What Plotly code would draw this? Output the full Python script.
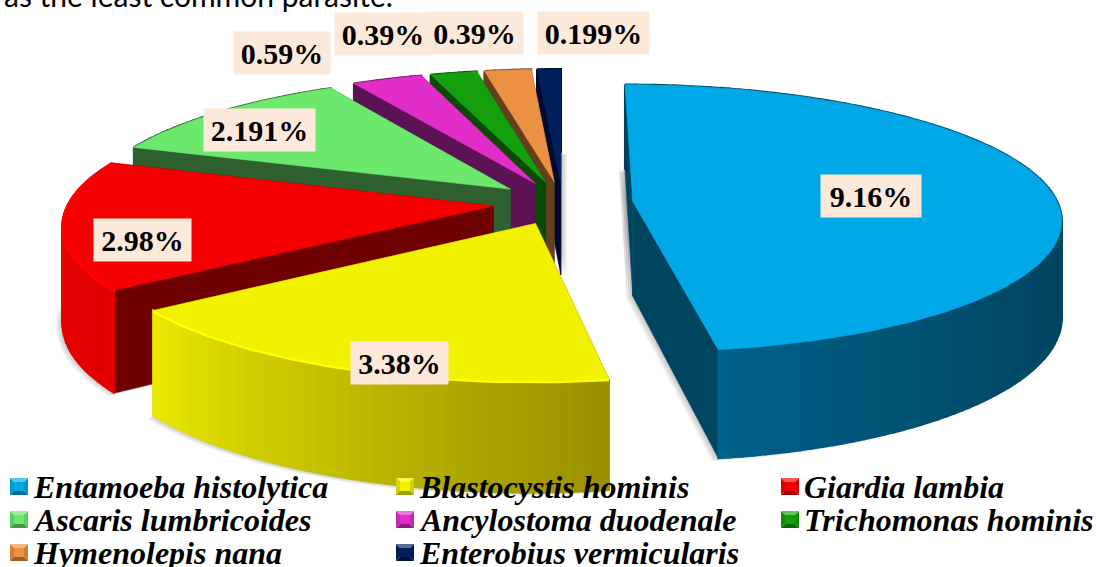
import numpy as np
import plotly.graph_objects as go

# ---- data ----
parasites = ["Entamoeba histolytica", "Blastocystis hominis", "Giardia lambia",
             "Ascaris lumbricoides", "Ancylostoma duodenale", "Trichomonas hominis",
             "Hymenolepis nana", "Enterobius vermicularis"]
values = [9.16, 3.38, 2.98, 2.191, 0.59, 0.39, 0.39, 0.199]
labels = ["9.16%", "3.38%", "2.98%", "2.191%", "0.59%", "0.39%", "0.39%", "0.199%"]
top_colors = ["#00A8E8", "#F2F200", "#F50000", "#6CE86C", "#E22EC8", "#14A00C", "#EC9044", "#00205C"]
side_colors = ["#004560", "#6E6E00", "#6E0000", "#2F6030", "#5C1255", "#0A4A05", "#663F1E", "#000A30"]
rim_start = ["#00405A", "#9A9000", "#E20000", "#2F6030", "#5C1255", "#0A4A05", "#663F1E", "#000A30"]
rim_end = ["#00628A", "#E8E800", "#E20000", "#2F6030", "#5C1255", "#0A4A05", "#663F1E", "#000A30"]
rim_curve = [4, 1, 1, 1, 1, 1, 1, 1]

# ---- view of the tilted pie, in page pixels ----
CX, CY, RX, RY, PERSP, EXPLODE, DEPTH = 563, 203, 425, 132, 0.127, 0.165, 95
label_boxes = [(871, 196, 100), (399, 363, 97), (142, 240, 97), (259, 130, 111),
               (282, 53, 96), (383, 34, 96), (474, 33, 97), (593, 33, 111)]
legend_cols = [10, 396, 781]
legend_rows = [487, 520, 553]


def project(X, Y):
    d = 1 + PERSP * np.asarray(Y)
    return CX + RX * np.asarray(X) / d, CY - RY * np.asarray(Y) / d, DEPTH / d


def hex_rgb(c):
    return np.array([int(c[i:i + 2], 16) for i in (1, 3, 5)], float)


def mix(a, b, t):
    v = hex_rgb(a) * (1 - t) + hex_rgb(b) * t
    return "rgb(%d,%d,%d)" % tuple(v)


fig = go.Figure()


def poly(xs, ys, fill, line=None, lw=0.6):
    fig.add_trace(go.Scatter(x=list(xs), y=list(ys), mode="lines", fill="toself",
                             fillcolor=fill, line=dict(color=line or fill, width=lw),
                             hoverinfo="skip", showlegend=False))


fractions = np.array(values) / sum(values)
edges = np.concatenate([[0], np.cumsum(fractions)]) * 2 * np.pi
slices = []
for i in range(len(values)):
    a0, a1 = edges[i], edges[i + 1]
    mid = (a0 + a1) / 2
    ox, oy = EXPLODE * np.sin(mid), EXPLODE * np.cos(mid)
    th = np.linspace(a0, a1, max(6, int((a1 - a0) * 40)))
    ax, ay, ah = project(ox, oy)
    rx, ry, rh = project(ox + np.sin(th), oy + np.cos(th))
    slices.append(dict(ax=float(ax), ay=float(ay), ah=float(ah), rx=rx, ry=ry, rh=rh))

# soft shadows
for o in (2, 4, 6):
    for i in (0, 1, 2, 7):
        s = slices[i]
        sx = -o if i != 7 else o
        poly(np.r_[s["ax"], s["rx"], s["ax"]] + sx,
             np.r_[s["ay"] + s["ah"], s["ry"] + s["rh"], s["ay"] + s["ah"]] + o * 0.5,
             "rgba(0,0,0,0.07)", "rgba(0,0,0,0)", 0)
    s = slices[0]
    poly(np.r_[s["ax"], s["rx"][0], s["rx"][0], s["ax"]] - o,
         np.r_[s["ay"], s["ry"][0] + 80, s["ry"][0] + 80, s["ay"] + s["ah"]],
         "rgba(0,0,0,0.07)", "rgba(0,0,0,0)", 0)

# painter's order: far slices first
for i in [7, 6, 5, 4, 3, 2, 0, 1]:
    s = slices[i]
    ax, ay, ah, rx, ry, rh = s["ax"], s["ay"], s["ah"], s["rx"], s["ry"], s["rh"]
    for j in (0, -1):
        poly([ax, rx[j], rx[j], ax, ax], [ay, ry[j], ry[j] + rh[j], ay + ah, ay], side_colors[i])
    n = len(rx)
    for j in range(n - 1):
        c = mix(rim_start[i], rim_end[i], (j / max(1, n - 2)) ** rim_curve[i])
        poly([rx[j], rx[j + 1], rx[j + 1], rx[j], rx[j]],
             [ry[j], ry[j + 1], ry[j + 1] + rh[j + 1], ry[j] + rh[j], ry[j]], c, lw=2)
    poly(np.r_[ax, rx, ax], np.r_[ay, ry, ay], top_colors[i])
    if i in (1, 2):
        fig.add_trace(go.Scatter(x=rx, y=ry + 1, mode="lines", hoverinfo="skip", showlegend=False,
                                 line=dict(color="#FFFF00" if i == 1 else "#FF0000", width=2.5)))

serif = "Liberation Serif"
ann = []
for text, (x, y, w) in zip(labels, label_boxes):
    ann.append(dict(x=x, y=y, text="<b>%s</b>" % text, showarrow=False, xref="x", yref="y",
                    width=w, height=42, bgcolor="#FDE9D9", borderpad=0, align="center", valign="middle",
                    font=dict(family=serif, size=30, color="#000000")))

shapes = []
for i, name in enumerate(parasites):
    col, row = legend_cols[i % 3], legend_rows[i // 3]
    x0, x1, y0, y1 = col, col + 18, row - 9, row + 8
    ins = 4
    base = top_colors[i]
    pieces = [(f"M{x0},{y0}L{x1},{y0}L{x1 - ins},{y0 + ins}L{x0 + ins},{y0 + ins}Z", mix(base, "#FFFFFF", 0.35)),
              (f"M{x0},{y0}L{x0 + ins},{y0 + ins}L{x0 + ins},{y1 - ins}L{x0},{y1}Z", mix(base, "#000000", 0.12)),
              (f"M{x1},{y0}L{x1 - ins},{y0 + ins}L{x1 - ins},{y1 - ins}L{x1},{y1}Z", mix(base, "#000000", 0.12)),
              (f"M{x0},{y1}L{x1},{y1}L{x1 - ins},{y1 - ins}L{x0 + ins},{y1 - ins}Z", mix(base, "#000000", 0.35)),
              (f"M{x0 + ins},{y0 + ins}L{x1 - ins},{y0 + ins}L{x1 - ins},{y1 - ins}L{x0 + ins},{y1 - ins}Z", base)]
    for path, c in pieces:
        shapes.append(dict(type="path", path=path, xref="x", yref="y", fillcolor=c, line=dict(width=0)))
    ann.append(dict(x=col + 21, y=row, text="<b><i>%s</i></b>" % name, showarrow=False, xref="x", yref="y",
                    xanchor="left", yanchor="middle", font=dict(family=serif, size=32, color="#000000")))

ann.append(dict(x=2, y=15, text="as the least common parasite.", showarrow=False, xref="x", yref="y",
                xanchor="left", yanchor="bottom", font=dict(family="Lato", size=30, color="#000000")))

fig.update_layout(width=1097, height=567, margin=dict(l=0, r=0, t=0, b=0),
                  paper_bgcolor="white", plot_bgcolor="white", showlegend=False,
                  xaxis=dict(range=[0, 1097], visible=False, fixedrange=True),
                  yaxis=dict(range=[567, 0], visible=False, fixedrange=True),
                  annotations=ann, shapes=shapes)
fig.write_html("out.html", config=dict(displayModeBar=False),
               post_script="document.body.style.margin='0';document.documentElement.style.overflow='hidden';")
